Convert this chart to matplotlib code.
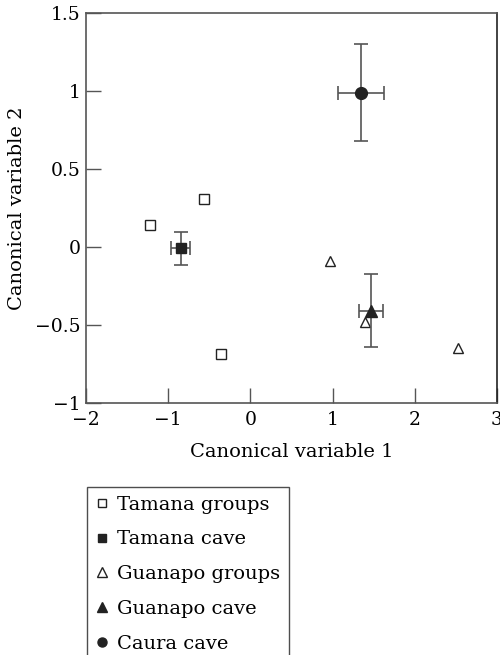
import matplotlib.pyplot as plt
from matplotlib.lines import Line2D

plt.rcParams['font.family'] = ['DejaVu Serif']

# canonical variable scores
tamana_groups_x = [-1.22, -0.57, -0.36]
tamana_groups_y = [0.14, 0.31, -0.69]
guanapo_groups_x = [0.97, 1.40, 2.52]
guanapo_groups_y = [-0.09, -0.48, -0.65]

# cave means with errors
tamana_cave = (-0.85, -0.01)
tamana_cave_err = (0.12, 0.105)
guanapo_cave = (1.47, -0.41)
guanapo_cave_err = (0.145, 0.235)
caura_cave = (1.35, 0.99)
caura_cave_err = (0.28, 0.31)

labels = ['Tamana groups', 'Tamana cave', 'Guanapo groups', 'Guanapo cave', 'Caura cave']

fig = plt.figure(figsize=(5, 6.55), dpi=100)
ax = fig.add_axes([0.172, 0.385, 0.822, 0.595])

grey = '#555555'
ax.plot(tamana_groups_x, tamana_groups_y, 's', ms=6.5, mfc='white', mec='#222222', mew=1)
ax.plot(guanapo_groups_x, guanapo_groups_y, '^', ms=7.5, mfc='white', mec='#222222', mew=1)

for (cx, cy), (ex, ey), m, ms in [(tamana_cave, tamana_cave_err, 's', 7),
                                  (guanapo_cave, guanapo_cave_err, '^', 8.5),
                                  (caura_cave, caura_cave_err, 'o', 8.5)]:
    ax.errorbar(cx, cy, xerr=ex, yerr=ey, fmt=m, ms=ms, color='#222222',
                ecolor=grey, elinewidth=1.2, capsize=4.7, capthick=1.2, zorder=3)

ax.set_xlim(-2, 3)
ax.set_ylim(-1, 1.5)
ax.set_xticks([-2, -1, 0, 1, 2, 3])
ax.set_yticks([-1, -0.5, 0, 0.5, 1, 1.5])
ax.set_xticklabels(['\u22122', '\u22121', '0', '1', '2', '3'])
ax.set_yticklabels(['\u22121', '\u22120.5', '0', '0.5', '1', '1.5'])
ax.tick_params(direction='in', length=11, width=1, color=grey, labelsize=13.5, pad=4)
ax.tick_params(axis='x', pad=6)
for s in ax.spines.values():
    s.set_color(grey)
    s.set_linewidth(1.2)
ax.spines['right'].set_color('#222222')

ax.set_xlabel('Canonical variable 1', fontsize=14, labelpad=10)
ax.set_ylabel('Canonical variable 2', fontsize=14, labelpad=6)

handles = [Line2D([], [], ls='', marker='s', ms=6, mfc='white', mec='#222222'),
           Line2D([], [], ls='', marker='s', ms=6, color='#222222'),
           Line2D([], [], ls='', marker='^', ms=6.5, mfc='white', mec='#222222'),
           Line2D([], [], ls='', marker='^', ms=6.5, color='#222222'),
           Line2D([], [], ls='', marker='o', ms=6.5, color='#222222')]
leg = fig.legend(handles, labels, loc='upper left', bbox_to_anchor=(0.174, 1 - 487 / 655),
                 fontsize=14, frameon=True, fancybox=False, edgecolor='#222222',
                 handlelength=0.6, handletextpad=0.5, labelspacing=0.86, borderpad=0.45,
                 borderaxespad=0)
leg.get_frame().set_linewidth(1)

fig.savefig('out.png', dpi=100)
